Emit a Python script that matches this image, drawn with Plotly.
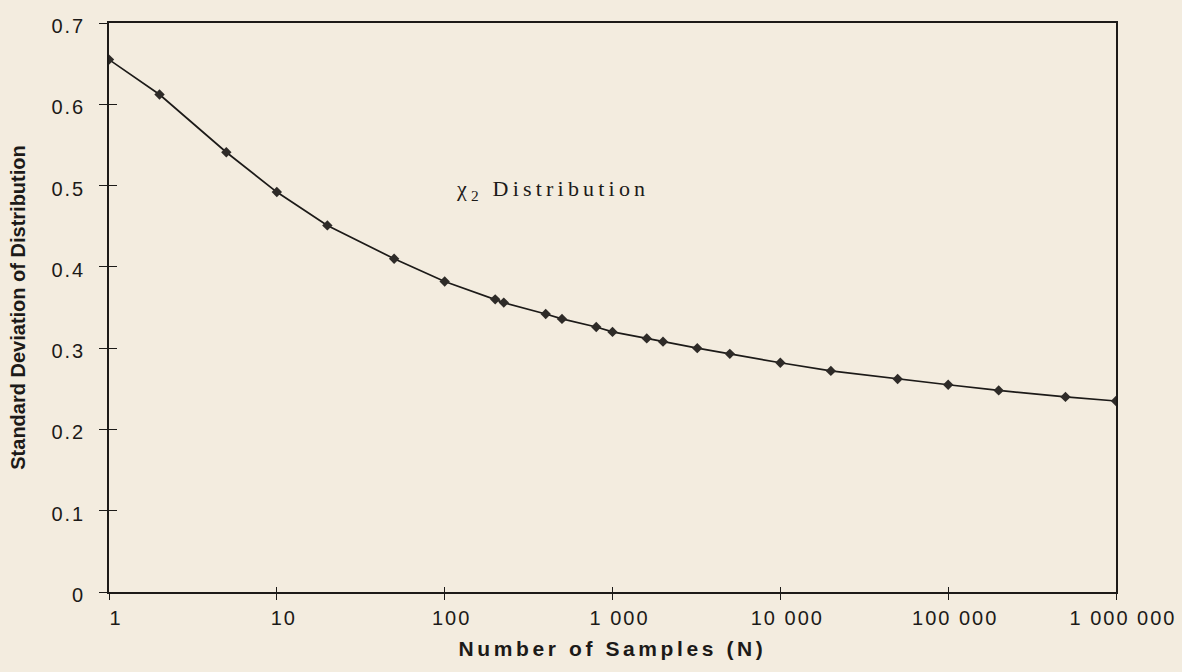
import plotly.graph_objects as go

# ---- data ----
samples = [1, 2, 5, 10, 20, 50, 100, 200, 225, 400, 500, 800, 1000, 1600, 2000,
           3200, 5000, 10000, 20000, 50000, 100000, 200000, 500000, 1000000]
std_dev = [0.655, 0.612, 0.541, 0.492, 0.451, 0.410, 0.382, 0.360, 0.356, 0.342,
           0.336, 0.326, 0.320, 0.312, 0.308, 0.300, 0.293, 0.282, 0.272, 0.262,
           0.255, 0.248, 0.240, 0.235]

x_tickvals = [1, 10, 100, 1000, 10000, 100000, 1000000]
x_ticklabels = ["1", "10", "100", "1 000", "10 000", "100 000", "1 000 000"]
y_tickvals = [0, 0.1, 0.2, 0.3, 0.4, 0.5, 0.6, 0.7]
y_ticklabels = ["0", "0.1", "0.2", "0.3", "0.4", "0.5", "0.6", "0.7"]

x_title = "Number of Samples (N)"
y_title = "Standard Deviation of Distribution"
note_text = "χ<sub>2</sub> Distribution"

BG = "#f3ecdf"
INK = "#1c1a18"
SANS = "Liberation Sans, Arial, sans-serif"
SERIF = "Liberation Serif, Times New Roman, serif"


def spaced(t, px):
    return f'<span style="letter-spacing:{px}px">{t}</span>'


fig = go.Figure()
fig.add_trace(go.Scatter(
    x=samples, y=std_dev, mode="lines+markers",
    line=dict(color=INK, width=1.7),
    marker=dict(symbol="diamond", size=8, color="#2e2b28"),
    showlegend=False, hoverinfo="x+y",
))
# invisible copy on the overlay axes (they carry the inner halves of the crossing ticks)
fig.add_trace(go.Scatter(x=samples, y=std_dev, xaxis="x2", yaxis="y2",
                         mode="markers", marker=dict(size=8, color="rgba(0,0,0,0)"),
                         showlegend=False, hoverinfo="skip"))

axis_font = dict(family=SANS, size=20, color=INK)

fig.update_layout(
    width=1182, height=672,
    margin=dict(l=109, r=66, t=23, b=80),
    paper_bgcolor=BG, plot_bgcolor=BG,
    xaxis=dict(
        type="log", range=[0, 6], automargin=False,
        tickvals=x_tickvals, ticktext=[spaced(t, 2) for t in x_ticklabels],
        ticks="outside", ticklen=6, tickwidth=1.2, tickcolor=INK,
        showline=True, linecolor=INK, linewidth=1.6, mirror=True,
        showgrid=False, zeroline=False,
        tickfont=axis_font, ticklabelshift=7, ticklabelstandoff=1,
        title=dict(text=spaced(x_title, 3.6),
                   font=dict(family=SANS, size=21, color=INK, weight="bold"),
                   standoff=14),
    ),
    yaxis=dict(
        range=[0, 0.7], automargin=False,
        tickvals=y_tickvals, ticktext=[spaced(t, 2) for t in y_ticklabels],
        ticks="outside", ticklen=8, tickwidth=1.2, tickcolor=INK,
        showline=True, linecolor=INK, linewidth=1.6, mirror=True,
        showgrid=False, zeroline=False,
        tickfont=axis_font, ticklabelshift=3, ticklabelstandoff=10,
        title=dict(text=y_title,
                   font=dict(family=SANS, size=20, color=INK, weight="bold"),
                   standoff=20),
    ),
    xaxis2=dict(
        type="log", range=[0, 6], overlaying="x", anchor="y2", side="bottom",
        automargin=False, visible=True,
        tickvals=x_tickvals, ticks="inside", ticklen=5, tickwidth=1.2,
        tickcolor=INK, showticklabels=False, showline=False,
        showgrid=False, zeroline=False,
    ),
    yaxis2=dict(
        range=[0, 0.7], overlaying="y", anchor="x2", side="left",
        automargin=False, visible=True,
        tickvals=y_tickvals, ticks="inside", ticklen=8, tickwidth=1.2,
        tickcolor=INK, showticklabels=False, showline=False,
        showgrid=False, zeroline=False,
    ),
    annotations=[dict(
        text=spaced(note_text, 4.2), xref="paper", yref="paper",
        x=0.44, y=0.706, xanchor="center", yanchor="middle", showarrow=False,
        font=dict(family=SERIF, size=22, color=INK),
    )],
)

fig.write_html("out.html")
